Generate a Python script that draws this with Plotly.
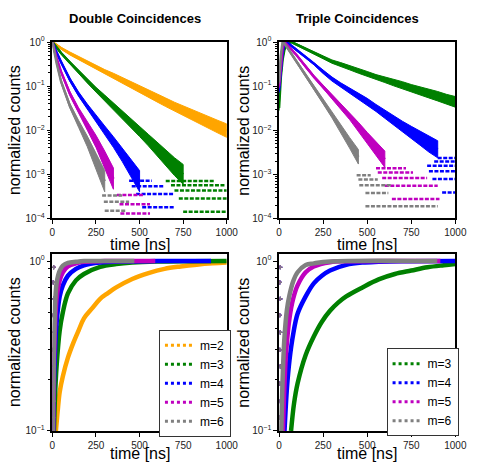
import plotly.graph_objects as go

# ---------------- data ----------------
colors = {2: "#FFA500", 3: "#008000", 4: "#0000FF", 5: "#BF00BF", 6: "#808080"}
labels = {2: "m=2", 3: "m=3", 4: "m=4", 5: "m=5", 6: "m=6"}
x_ticks = [0, 250, 500, 750, 1000]

# --- Double coincidences (decay, normalized counts): time, band centre, band spread factor
dbl_t_m2 = [0, 50, 100, 150, 200, 250, 300, 350, 400, 450, 500, 550, 600, 650, 700, 750, 800, 850, 900, 950, 1000]
dbl_mid_m2 = [1.0, 0.72, 0.55, 0.43, 0.34, 0.27, 0.21, 0.17, 0.135, 0.107, 0.085, 0.068, 0.054, 0.043, 0.034, 0.0275, 0.0224, 0.0182, 0.0148, 0.012, 0.0098]
dbl_spr_m2 = [1.04, 1.055, 1.08, 1.095, 1.105, 1.12, 1.13, 1.15, 1.16, 1.18, 1.20, 1.21, 1.23, 1.25, 1.27, 1.29, 1.32, 1.35, 1.37, 1.39, 1.42]

dbl_t_m3 = [0, 50, 100, 150, 200, 250, 300, 350, 400, 450, 500, 550, 600, 650, 700, 750]
dbl_mid_m3 = [1.0, 0.56, 0.34, 0.21, 0.132, 0.083, 0.054, 0.035, 0.0224, 0.0145, 0.0093, 0.006, 0.0038, 0.0024, 0.0015, 0.001]
dbl_spr_m3 = [1.04, 1.055, 1.08, 1.095, 1.12, 1.13, 1.16, 1.18, 1.20, 1.25, 1.29, 1.35, 1.42, 1.50, 1.59, 1.68]

dbl_t_m4 = [0, 25, 50, 100, 150, 200, 250, 300, 350, 400, 450, 500]
dbl_mid_m4 = [1.0, 0.56, 0.35, 0.141, 0.066, 0.034, 0.018, 0.010, 0.0054, 0.0028, 0.0014, 0.0007]
dbl_spr_m4 = [1.04, 1.055, 1.065, 1.095, 1.12, 1.16, 1.20, 1.25, 1.32, 1.42, 1.56, 1.74]

dbl_t_m5 = [0, 25, 50, 100, 150, 200, 250, 300, 350]
dbl_mid_m5 = [1.0, 0.42, 0.21, 0.068, 0.028, 0.0126, 0.0056, 0.0022, 0.0008]
dbl_spr_m5 = [1.04, 1.055, 1.08, 1.12, 1.16, 1.25, 1.37, 1.53, 1.74]

dbl_t_m6 = [0, 25, 50, 100, 150, 200, 250, 300]
dbl_mid_m6 = [1.0, 0.32, 0.126, 0.036, 0.014, 0.0056, 0.002, 0.0007]
dbl_spr_m6 = [1.04, 1.055, 1.095, 1.13, 1.20, 1.32, 1.50, 1.74]

# low-count quantized rows: (level, t_start, t_end)
dbl_rows_m3 = [(1.42e-4, 750, 1000), (2.84e-4, 725, 1000), (4.3e-4, 700, 1000), (5.7e-4, 680, 990), (7.1e-4, 650, 930)]
dbl_rows_m4 = [(1.8e-4, 515, 700), (3.6e-4, 480, 700), (5.4e-4, 455, 640), (7.2e-4, 440, 570)]
dbl_rows_m5 = [(1.3e-4, 390, 560), (2.1e-4, 385, 560), (3.4e-4, 370, 520)]
dbl_rows_m6 = [(1.5e-4, 300, 420), (2.4e-4, 295, 440), (3.3e-4, 285, 400)]

# --- Triple coincidences
tri_t_m3 = [0, 10, 20, 30, 40, 50, 70, 100, 150, 200, 250, 300, 350, 400, 450, 500, 550, 600, 650, 700, 750, 800, 850, 900, 950, 1000]
tri_mid_m3 = [0.032, 0.16, 0.40, 0.66, 0.85, 0.93, 1.0, 0.87, 0.71, 0.56, 0.45, 0.36, 0.31, 0.26, 0.22, 0.19, 0.16, 0.14, 0.12, 0.105, 0.089, 0.078, 0.068, 0.059, 0.050, 0.044]
tri_spr_m3 = [1.15, 1.12, 1.08, 1.05, 1.04, 1.04, 1.04, 1.05, 1.06, 1.07, 1.08, 1.09, 1.10, 1.11, 1.12, 1.13, 1.14, 1.16, 1.18, 1.20, 1.22, 1.24, 1.26, 1.28, 1.30, 1.32]

tri_t_m4 = [0, 10, 20, 30, 40, 50, 100, 150, 200, 250, 300, 350, 400, 450, 500, 550, 600, 650, 700, 750, 800, 850, 900]
tri_mid_m4 = [0.079, 0.25, 0.56, 0.87, 1.0, 0.95, 0.66, 0.46, 0.32, 0.21, 0.145, 0.105, 0.079, 0.060, 0.044, 0.032, 0.023, 0.0166, 0.012, 0.0089, 0.0066, 0.0048, 0.0037]
tri_spr_m4 = [1.12, 1.10, 1.07, 1.05, 1.04, 1.04, 1.05, 1.06, 1.07, 1.09, 1.11, 1.13, 1.15, 1.17, 1.20, 1.20, 1.23, 1.28, 1.33, 1.38, 1.44, 1.50, 1.56]

tri_t_m5 = [0, 10, 20, 30, 40, 50, 100, 150, 200, 250, 300, 350, 400, 450, 500, 550, 600]
tri_mid_m5 = [0.10, 0.32, 0.71, 1.0, 0.93, 0.83, 0.50, 0.28, 0.158, 0.095, 0.058, 0.035, 0.021, 0.012, 0.0068, 0.0038, 0.0022]
tri_spr_m5 = [1.12, 1.08, 1.05, 1.04, 1.04, 1.04, 1.05, 1.07, 1.09, 1.11, 1.13, 1.17, 1.20, 1.26, 1.32, 1.42, 1.53]

tri_t_m6 = [0, 10, 20, 30, 50, 100, 150, 200, 250, 300, 350, 400, 450]
tri_mid_m6 = [0.126, 0.50, 1.0, 0.93, 0.71, 0.355, 0.178, 0.089, 0.045, 0.0224, 0.011, 0.0052, 0.0025]
tri_spr_m6 = [1.12, 1.07, 1.04, 1.04, 1.05, 1.07, 1.09, 1.11, 1.14, 1.17, 1.23, 1.32, 1.46]

tri_rows_m4 = [(3.9e-4, 925, 1000), (7.8e-4, 870, 1000), (1.17e-3, 850, 1000), (1.56e-3, 840, 1000), (1.95e-3, 880, 1000), (2.34e-3, 900, 1000)]
tri_rows_m5 = [(2.75e-4, 640, 910), (5.5e-4, 600, 900), (8.25e-4, 585, 840), (1.1e-3, 560, 760), (1.38e-3, 550, 720)]
tri_rows_m6 = [(1.9e-4, 490, 900), (3.8e-4, 490, 620), (5.7e-4, 455, 640), (7.6e-4, 450, 560), (9.5e-4, 440, 520)]

# --- Cumulative (normalized) counts
cum_dbl_t_m2 = [20, 30, 42, 60, 89, 120, 150, 181, 230, 274, 320, 366, 458, 551, 643, 736, 828, 920, 1000]
cum_dbl_m2 = [0.1, 0.13, 0.17, 0.21, 0.27, 0.33, 0.39, 0.46, 0.53, 0.60, 0.65, 0.70, 0.785, 0.85, 0.90, 0.93, 0.953, 0.97, 0.98]
cum_dbl_t_m3 = [9, 15, 24, 42, 60, 89, 135, 181, 274, 366, 458, 600, 800, 1000]
cum_dbl_m3 = [0.1, 0.16, 0.24, 0.39, 0.50, 0.645, 0.77, 0.84, 0.925, 0.96, 0.98, 0.993, 0.998, 1.0]
cum_dbl_t_m4 = [5, 12, 24, 42, 60, 89, 135, 181, 274, 400, 600, 910]
cum_dbl_m4 = [0.1, 0.24, 0.43, 0.62, 0.72, 0.82, 0.90, 0.945, 0.98, 0.995, 1.0, 1.0]
cum_dbl_t_m5 = [4, 10, 24, 42, 60, 89, 135, 181, 300, 590]
cum_dbl_m5 = [0.1, 0.28, 0.60, 0.77, 0.86, 0.93, 0.97, 0.99, 1.0, 1.0]
cum_dbl_t_m6 = [3, 10, 24, 42, 60, 89, 135, 181, 470]
cum_dbl_m6 = [0.1, 0.35, 0.74, 0.88, 0.94, 0.975, 0.99, 1.0, 1.0]

cum_tri_t_m3 = [68, 85, 105, 151, 197, 243, 289, 335, 381, 473, 565, 657, 750, 842, 934, 1000]
cum_tri_m3 = [0.1, 0.145, 0.19, 0.28, 0.36, 0.44, 0.51, 0.57, 0.62, 0.70, 0.78, 0.84, 0.88, 0.92, 0.945, 0.96]
cum_tri_t_m4 = [31, 45, 59, 80, 105, 151, 197, 243, 289, 381, 473, 565, 700, 1000]
cum_tri_m4 = [0.1, 0.18, 0.26, 0.37, 0.49, 0.62, 0.74, 0.82, 0.88, 0.95, 0.98, 0.99, 0.997, 1.0]
cum_tri_t_m5 = [22, 30, 40, 59, 80, 105, 151, 197, 289, 400, 915]
cum_tri_m5 = [0.1, 0.18, 0.29, 0.46, 0.60, 0.72, 0.86, 0.93, 0.985, 0.998, 1.0]
cum_tri_t_m6 = [13, 20, 31, 45, 59, 80, 105, 151, 197, 289, 897]
cum_tri_m6 = [0.1, 0.20, 0.36, 0.52, 0.63, 0.76, 0.86, 0.95, 0.97, 0.995, 1.0]

# scattered early-time points drawn along t~0 in the cumulative panels
cum_col_t = [4, 7, 4, 7, 4, 7, 4, 7, 4, 7]
cum_col_vals = [0.12, 0.15, 0.19, 0.24, 0.3, 0.38, 0.48, 0.6, 0.75, 0.92]

# ---------------- figure ----------------
W, H = 478, 470
fig = go.Figure()


def band(t, mid, spr, m, xa, ya):
    hi = [v * s for v, s in zip(mid, spr)]
    lo = [v / s for v, s in zip(mid, spr)]
    fig.add_trace(go.Scatter(x=t + t[::-1], y=hi + lo[::-1], fill="toself",
                             fillcolor=colors[m], line=dict(color=colors[m], width=1),
                             mode="lines", showlegend=False, hoverinfo="skip",
                             xaxis=xa, yaxis=ya))
    fig.add_trace(go.Scatter(x=t, y=mid, mode="lines", line=dict(color=colors[m], width=2.5),
                             showlegend=False, xaxis=xa, yaxis=ya))


def rows(rws, m, xa, ya):
    for lvl, t0, t1 in rws:
        fig.add_trace(go.Scatter(x=[t0, t1], y=[lvl, lvl], mode="lines",
                                 line=dict(color=colors[m], width=2.5, dash="4px,1.5px"),
                                 showlegend=False, xaxis=xa, yaxis=ya))


def cum(t, v, m, xa, ya):
    fig.add_trace(go.Scatter(x=cum_col_t, y=cum_col_vals, mode="markers",
                             marker=dict(color=colors[m], size=3, symbol="cross-thin",
                                         line=dict(color=colors[m], width=1.2)),
                             showlegend=False, xaxis=xa, yaxis=ya))
    fig.add_trace(go.Scatter(x=t, y=v, mode="lines", line=dict(color=colors[m], width=4.5, shape="spline"),
                             showlegend=False, xaxis=xa, yaxis=ya))


# top-left: double
band(dbl_t_m2, dbl_mid_m2, dbl_spr_m2, 2, "x", "y")
band(dbl_t_m3, dbl_mid_m3, dbl_spr_m3, 3, "x", "y")
rows(dbl_rows_m3, 3, "x", "y")
band(dbl_t_m4, dbl_mid_m4, dbl_spr_m4, 4, "x", "y")
rows(dbl_rows_m4, 4, "x", "y")
band(dbl_t_m5, dbl_mid_m5, dbl_spr_m5, 5, "x", "y")
rows(dbl_rows_m5, 5, "x", "y")
band(dbl_t_m6, dbl_mid_m6, dbl_spr_m6, 6, "x", "y")
rows(dbl_rows_m6, 6, "x", "y")

# top-right: triple
band(tri_t_m3, tri_mid_m3, tri_spr_m3, 3, "x2", "y2")
band(tri_t_m4, tri_mid_m4, tri_spr_m4, 4, "x2", "y2")
rows(tri_rows_m4, 4, "x2", "y2")
band(tri_t_m5, tri_mid_m5, tri_spr_m5, 5, "x2", "y2")
rows(tri_rows_m5, 5, "x2", "y2")
band(tri_t_m6, tri_mid_m6, tri_spr_m6, 6, "x2", "y2")
rows(tri_rows_m6, 6, "x2", "y2")

# bottom-left: cumulative double
cum(cum_dbl_t_m2, cum_dbl_m2, 2, "x3", "y3")
cum(cum_dbl_t_m3, cum_dbl_m3, 3, "x3", "y3")
cum(cum_dbl_t_m4, cum_dbl_m4, 4, "x3", "y3")
cum(cum_dbl_t_m5, cum_dbl_m5, 5, "x3", "y3")
cum(cum_dbl_t_m6, cum_dbl_m6, 6, "x3", "y3")

# bottom-right: cumulative triple
cum(cum_tri_t_m3, cum_tri_m3, 3, "x4", "y4")
cum(cum_tri_t_m4, cum_tri_m4, 4, "x4", "y4")
cum(cum_tri_t_m5, cum_tri_m5, 5, "x4", "y4")
cum(cum_tri_t_m6, cum_tri_m6, 6, "x4", "y4")

# legend entries
for m in [2, 3, 4, 5, 6]:
    fig.add_trace(go.Scatter(x=[None], y=[None], mode="lines", name=labels[m],
                             line=dict(color=colors[m], width=3, dash="dot"),
                             legend="legend", xaxis="x3", yaxis="y3"))
for m in [3, 4, 5, 6]:
    fig.add_trace(go.Scatter(x=[None], y=[None], mode="lines", name=labels[m],
                             line=dict(color=colors[m], width=3, dash="dot"),
                             legend="legend2", xaxis="x4", yaxis="y4"))

FONT = "Liberation Sans, Arial, sans-serif"
left = [51 / W, 231 / W]
right = [285 / W, 467 / W]
top = [1 - 217.5 / H, 1 - 36 / H]
bot = [1 - 436 / H, 1 - 254 / H]


def xax(dom, anchor):
    return dict(domain=dom, anchor=anchor, range=[0, 1000], tickvals=x_ticks,
                ticks="outside", ticklen=4, tickwidth=1.3, tickcolor="black",
                showline=True, mirror=True, linecolor="black", linewidth=1.5,
                showgrid=False, zeroline=False, tickfont=dict(family=FONT, size=10, color="#222"))


def sup(e):
    return "10<sup>" + ("\u2212" + str(-e) if e < 0 else str(e)) + "</sup>"


def yax(dom, anchor, emin, emax):
    major = [10.0 ** e for e in range(emin, 1)]
    minor = [k * 10.0 ** e for e in range(emin, 0) for k in range(2, 10)]
    return dict(domain=dom, anchor=anchor, type="log", range=[emin, emax],
                tickmode="array", tickvals=major, ticktext=[sup(e) for e in range(emin, 1)],
                ticks="outside", ticklen=4, tickwidth=1.3, tickcolor="black",
                minor=dict(tickmode="array", tickvals=minor, ticks="outside", ticklen=2.2,
                           tickwidth=1, tickcolor="black", showgrid=False),
                showline=True, mirror=True, linecolor="black", linewidth=1.5,
                showgrid=False, zeroline=False, tickfont=dict(family=FONT, size=10, color="#222"))


ann = []


def txt(s, x, y, size, bold=False, angle=0):
    ann.append(dict(text=("<b>%s</b>" % s) if bold else s, x=x / W, y=1 - y / H, xref="paper", yref="paper",
                    showarrow=False, textangle=angle, xanchor="center", yanchor="middle",
                    font=dict(family=FONT, size=size, color="black")))


txt("Double Coincidences", 136, 12, 13, bold=True)
txt("Triple Coincidences", 366, 12, 13, bold=True)
txt("normalized counts", 12, 127, 16, angle=-90)
txt("normalized counts", 248, 127, 16, angle=-90)
txt("normalized counts", 12, 345, 16, angle=-90)
txt("normalized counts", 248, 345, 16, angle=-90)
txt("time [ns]", 141, 244, 16)
txt("time [ns]", 376, 244, 16)
txt("time [ns]", 141, 459, 16)
txt("time [ns]", 376, 459, 16)

legend_style = dict(bgcolor="white", bordercolor="#333", borderwidth=1,
                    font=dict(family=FONT, size=12, color="black"),
                    xanchor="left", yanchor="top", tracegroupgap=0)

fig.update_layout(
    width=W, height=H, margin=dict(l=0, r=0, t=0, b=0),
    paper_bgcolor="white", plot_bgcolor="white",
    xaxis=xax(left, "y"), yaxis=yax(top, "x", -4, 0),
    xaxis2=xax(right, "y2"), yaxis2=yax(top, "x2", -4, 0),
    xaxis3=xax(left, "y3"), yaxis3=yax(bot, "x3", -1, 0.042),
    xaxis4=xax(right, "y4"), yaxis4=yax(bot, "x4", -1, 0.042),
    annotations=ann,
    legend=dict(x=161 / W, y=1 - 332 / H, **legend_style),
    legend2=dict(x=396 / W, y=1 - 351 / H, **legend_style),
    showlegend=True,
)

fig.write_html("out.html", config={"displayModeBar": False},
               post_script="document.body.style.margin='0px';")
